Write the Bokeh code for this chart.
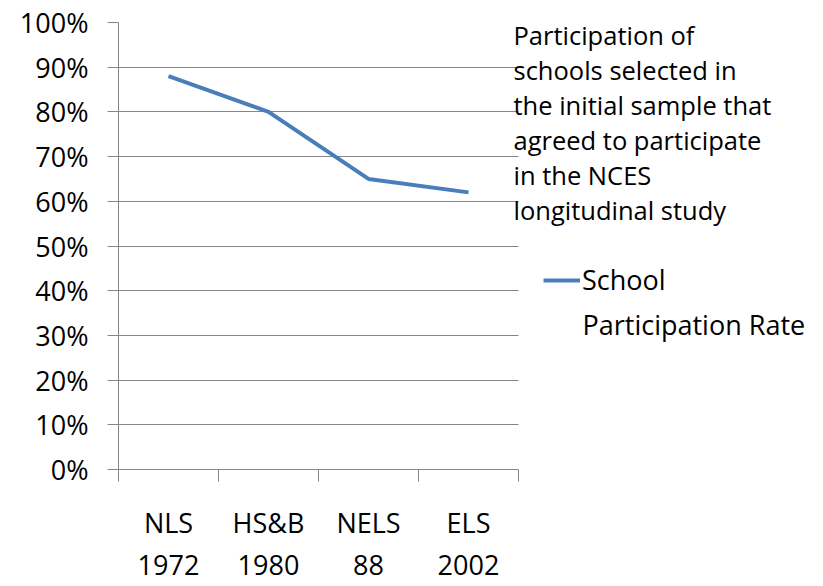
from bokeh.plotting import figure
from bokeh.models import FixedTicker, Legend, LegendItem, Label, Range1d
from bokeh.embed import file_html
from bokeh.resources import INLINE

# ---- data ----
categories = ["NLS\n1972", "HS&B\n1980", "NELS\n88", "ELS\n2002"]
rates = [0.88, 0.80, 0.65, 0.62]
y_ticks = [0.0, 0.1, 0.2, 0.3, 0.4, 0.5, 0.6, 0.7, 0.8, 0.9, 1.0]
y_tick_labels = ["0%", "10%", "20%", "30%", "40%", "50%", "60%", "70%", "80%", "90%", "100%"]
series_label_first = "School"
series_label_second = "Participation Rate"
note_lines = [
    "Participation of",
    "schools selected in",
    "the initial sample that",
    "agreed to participate",
    "in the NCES",
    "longitudinal study",
]

FONT = "Open Sans"
GRAY = "#868686"
BLUE = "#4a7ebb"

W, H = 815, 586
LEFT, TOP, BOTTOM = 118, 22, 116
PX_PER_CAT = 100.0
frame_w = W - LEFT
frame_h = H - TOP - BOTTOM

n = len(categories)
x_pos = [i + 0.5 for i in range(n)]
x_bounds = [float(i) for i in range(n + 1)]

p = figure(
    width=W, height=H,
    x_range=Range1d(0, frame_w / PX_PER_CAT), y_range=Range1d(0, 1),
    output_backend="svg", toolbar_location=None,
    min_border_left=LEFT, min_border_right=0, min_border_top=TOP, min_border_bottom=BOTTOM,
    outline_line_color=None,
)

# x axis
p.xaxis.bounds = (0, n)
p.xaxis.ticker = FixedTicker(ticks=x_pos, minor_ticks=x_bounds)
p.xaxis.major_label_overrides = {x: c for x, c in zip(x_pos, categories)}
p.xaxis.major_tick_out = 0
p.xaxis.major_tick_in = 0
p.xaxis.minor_tick_out = 12
p.xaxis.minor_tick_in = 0
p.xaxis.minor_tick_line_color = GRAY
p.xaxis.axis_line_color = GRAY
p.xaxis.major_label_standoff = 22
p.xaxis.major_label_text_font = FONT
p.xaxis.major_label_text_font_size = "27px"
p.xaxis.major_label_text_color = "black"
p.xaxis.major_label_text_line_height = 1.15
p.xgrid.visible = False

# y axis
p.yaxis.ticker = FixedTicker(ticks=y_ticks, minor_ticks=[])
p.yaxis.major_label_overrides = {t: l for t, l in zip(y_ticks, y_tick_labels)}
p.yaxis.major_tick_out = 11
p.yaxis.major_tick_in = 0
p.yaxis.major_tick_line_color = GRAY
p.yaxis.axis_line_color = GRAY
p.yaxis.major_label_standoff = 19
p.yaxis.major_label_text_font = FONT
p.yaxis.major_label_text_font_size = "27px"
p.yaxis.major_label_text_color = "black"
p.ygrid.grid_line_color = GRAY
p.ygrid.grid_line_width = 1
p.ygrid.cross_bounds = (0, n)

r = p.line(x_pos, rates, line_color=BLUE, line_width=4)

# helpers: reference-pixel positions -> data coordinates (for annotations)
def xd(px):
    return (px - LEFT) / PX_PER_CAT

def yd(py):
    return 1 - (py - TOP) / frame_h

legend = Legend(
    items=[LegendItem(label=series_label_first, renderers=[r])],
    location=(543 - LEFT, TOP + frame_h - 299),
    border_line_color=None, background_fill_alpha=0,
    padding=0, margin=0, spacing=0,
    glyph_width=37, label_standoff=2,
    label_text_font=FONT, label_text_font_size="27px", label_text_color="black",
)
p.add_layout(legend)

p.add_layout(Label(x=xd(582), y=yd(325), text=series_label_second,
                   text_font=FONT, text_font_size="27px", text_color="black",
                   text_align="left", text_baseline="middle"))

for i, line in enumerate(note_lines):
    p.add_layout(Label(x=xd(513), y=yd(35 + 35 * i), text=line,
                       text_font=FONT, text_font_size="25.5px", text_color="black",
                       text_align="left", text_baseline="middle"))

open("out.html", "w").write(file_html(p, INLINE))
